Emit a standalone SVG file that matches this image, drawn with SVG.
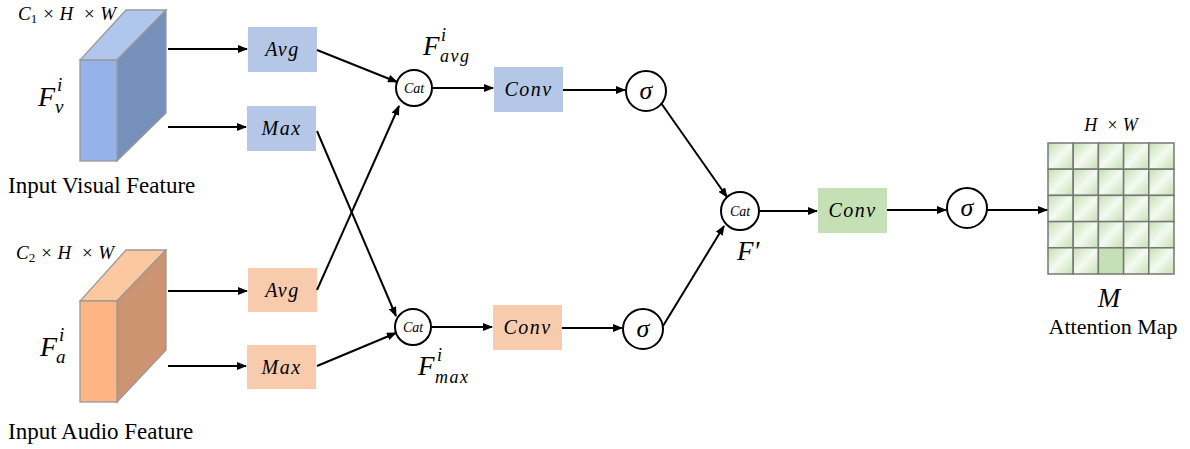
<svg xmlns="http://www.w3.org/2000/svg" width="1190" height="449" viewBox="0 0 1190 449">
<defs>
<marker id="ah" markerWidth="10" markerHeight="8" refX="9" refY="4" orient="auto" markerUnits="userSpaceOnUse">
<path d="M0,0 L10,4 L0,8 z" fill="#000"/>
</marker>
<linearGradient id="cellg" x1="0" y1="0" x2="1" y2="1">
<stop offset="0" stop-color="#C5E0B4"/>
<stop offset="0.5" stop-color="#F4FAF0"/>
<stop offset="1" stop-color="#C5E0B4"/>
</linearGradient>
</defs>
<style>
.m{font-family:"Liberation Serif","Times New Roman",serif;font-style:italic;fill:#000}
.b{letter-spacing:1.5px}
.t{font-family:"Liberation Serif","Times New Roman",serif;fill:#000}
.c{fill:#fff;stroke:#000;stroke-width:2}
.ln{stroke:#000;stroke-width:2;fill:none;marker-end:url(#ah)}
.blue{fill:#B4C7E7}
.orange{fill:#F8CBAD}
.green{fill:#C5E0B4}
.edge{stroke:#999;stroke-width:1.3}
</style>
<rect width="1190" height="449" fill="#fff"/>

<g id="visual-feature">
<polygon points="80,60 117,60 166,10 126,10" fill="#B0C6EC" class="edge"/>
<polygon points="117,60 166,10 166,113 117,161" fill="#7590BA" class="edge"/>
<rect x="80" y="60" width="37" height="101" fill="#95B3E8" class="edge"/>
<text x="18" y="20" class="m" font-size="19" xml:space="preserve">C<tspan font-size="13" font-style="normal" dy="3">1</tspan><tspan dy="-3"> × H  × W</tspan></text>
<text x="38" y="106" class="m" font-size="28">F</text>
<text x="57" y="91" class="m" font-size="19">i</text>
<text x="55" y="113" class="m" font-size="19">v</text>
<text x="8" y="193" class="t" font-size="23">Input Visual Feature</text>
</g>

<g id="audio-feature">
<polygon points="80,301 117,301 166,250 126,250" fill="#FBC8A0" class="edge"/>
<polygon points="117,301 166,250 166,350 117,402" fill="#CC9470" class="edge"/>
<rect x="80" y="301" width="37" height="101" fill="#FFB483" class="edge"/>
<text x="16" y="259" class="m" font-size="19" xml:space="preserve">C<tspan font-size="13" font-style="normal" dy="3">2</tspan><tspan dy="-3"> × H  × W</tspan></text>
<text x="40" y="356" class="m" font-size="28">F</text>
<text x="59" y="341" class="m" font-size="19">i</text>
<text x="56" y="363" class="m" font-size="19">a</text>
<text x="8" y="439" class="t" font-size="23">Input Audio Feature</text>
</g>

<g id="avg-top"><rect x="248" y="27" width="69" height="45" class="blue"/><text x="282.5" y="56" class="m b" font-size="20" text-anchor="middle">Avg</text></g>
<g id="max-top"><rect x="247" y="106" width="69" height="45" class="blue"/><text x="281.5" y="135" class="m b" font-size="20" text-anchor="middle">Max</text></g>
<g id="avg-bottom"><rect x="248" y="268" width="69" height="44" class="orange"/><text x="282.5" y="297" class="m b" font-size="20" text-anchor="middle">Avg</text></g>
<g id="max-bottom"><rect x="247" y="345" width="69" height="44" class="orange"/><text x="281.5" y="374" class="m b" font-size="20" text-anchor="middle">Max</text></g>

<g id="cat-top"><circle cx="414" cy="88" r="18" class="c"/><text x="414" y="93" class="m" font-size="14" text-anchor="middle">Cat</text>
<text x="423" y="55" class="m" font-size="27">F</text>
<text x="441" y="41" class="m" font-size="18">i</text>
<text x="440" y="62" class="m b" font-size="18">avg</text></g>
<g id="cat-bottom"><circle cx="413" cy="327" r="18" class="c"/><text x="413" y="332" class="m" font-size="14" text-anchor="middle">Cat</text>
<text x="418" y="375" class="m" font-size="27">F</text>
<text x="437" y="361" class="m" font-size="18">i</text>
<text x="435" y="383" class="m b" font-size="18">max</text></g>

<g id="conv-top"><rect x="494" y="67" width="69" height="45" class="blue"/><text x="528.5" y="96" class="m b" font-size="20" text-anchor="middle">Conv</text></g>
<g id="conv-bottom"><rect x="493" y="305" width="69" height="45" class="orange"/><text x="527.5" y="334" class="m b" font-size="20" text-anchor="middle">Conv</text></g>

<g id="sigma-top"><circle cx="646" cy="91" r="20" class="c"/><text x="646" y="99" class="m" font-size="26" text-anchor="middle">σ</text></g>
<g id="sigma-bottom"><circle cx="643" cy="329" r="20" class="c"/><text x="643" y="337" class="m" font-size="26" text-anchor="middle">σ</text></g>

<g id="cat-right"><circle cx="740" cy="211" r="19" class="c"/><text x="740" y="216" class="m" font-size="14" text-anchor="middle">Cat</text>
<text x="737" y="260" class="m" font-size="27">F′</text></g>
<g id="conv-green"><rect x="818" y="188" width="69" height="45" class="green"/><text x="852.5" y="217" class="m b" font-size="20" text-anchor="middle">Conv</text></g>
<g id="sigma-right"><circle cx="967" cy="208" r="20" class="c"/><text x="967" y="216" class="m" font-size="26" text-anchor="middle">σ</text></g>

<g id="attention-map">
<g fill="url(#cellg)" stroke="#777" stroke-width="1.5">
<rect x="1048" y="143" width="25.2" height="26.2"/><rect x="1073.2" y="143" width="25.2" height="26.2"/><rect x="1098.4" y="143" width="25.2" height="26.2"/><rect x="1123.6" y="143" width="25.2" height="26.2"/><rect x="1148.8" y="143" width="25.2" height="26.2"/>
<rect x="1048" y="169.2" width="25.2" height="26.2"/><rect x="1073.2" y="169.2" width="25.2" height="26.2"/><rect x="1098.4" y="169.2" width="25.2" height="26.2"/><rect x="1123.6" y="169.2" width="25.2" height="26.2"/><rect x="1148.8" y="169.2" width="25.2" height="26.2"/>
<rect x="1048" y="195.4" width="25.2" height="26.2"/><rect x="1073.2" y="195.4" width="25.2" height="26.2"/><rect x="1098.4" y="195.4" width="25.2" height="26.2"/><rect x="1123.6" y="195.4" width="25.2" height="26.2"/><rect x="1148.8" y="195.4" width="25.2" height="26.2"/>
<rect x="1048" y="221.6" width="25.2" height="26.2"/><rect x="1073.2" y="221.6" width="25.2" height="26.2"/><rect x="1098.4" y="221.6" width="25.2" height="26.2"/><rect x="1123.6" y="221.6" width="25.2" height="26.2"/><rect x="1148.8" y="221.6" width="25.2" height="26.2"/>
<rect x="1048" y="247.8" width="25.2" height="26.2"/><rect x="1073.2" y="247.8" width="25.2" height="26.2"/><rect x="1098.4" y="247.8" width="25.2" height="26.2" fill="#C5E0B4"/><rect x="1123.6" y="247.8" width="25.2" height="26.2"/><rect x="1148.8" y="247.8" width="25.2" height="26.2"/>
</g>
<text x="1111" y="131" class="m" font-size="18" text-anchor="middle" xml:space="preserve">H  × W</text>
<text x="1109" y="307" class="m" font-size="27" text-anchor="middle">M</text>
<text x="1113" y="334" class="t" font-size="22" text-anchor="middle">Attention Map</text>
</g>

<g id="connectors">
<line x1="168" y1="49" x2="247" y2="49" class="ln"/>
<line x1="168" y1="127" x2="246" y2="127" class="ln"/>
<line x1="168" y1="291" x2="247" y2="291" class="ln"/>
<line x1="168" y1="366" x2="246" y2="366" class="ln"/>
<line x1="317" y1="50" x2="397" y2="82" class="ln"/>
<line x1="317" y1="131" x2="396" y2="316" class="ln"/>
<line x1="317" y1="290" x2="399" y2="106" class="ln"/>
<line x1="317" y1="366" x2="396" y2="333" class="ln"/>
<line x1="432" y1="88" x2="493" y2="88" class="ln"/>
<line x1="563" y1="90" x2="625" y2="90" class="ln"/>
<line x1="661" y1="103" x2="727" y2="197" class="ln"/>
<line x1="431" y1="327" x2="492" y2="327" class="ln"/>
<line x1="562" y1="328" x2="622" y2="328" class="ln"/>
<line x1="663" y1="326" x2="724" y2="226" class="ln"/>
<line x1="759" y1="211" x2="817" y2="211" class="ln"/>
<line x1="887" y1="210" x2="946" y2="210" class="ln"/>
<line x1="987" y1="210" x2="1047" y2="210" class="ln"/>
</g>
</svg>
